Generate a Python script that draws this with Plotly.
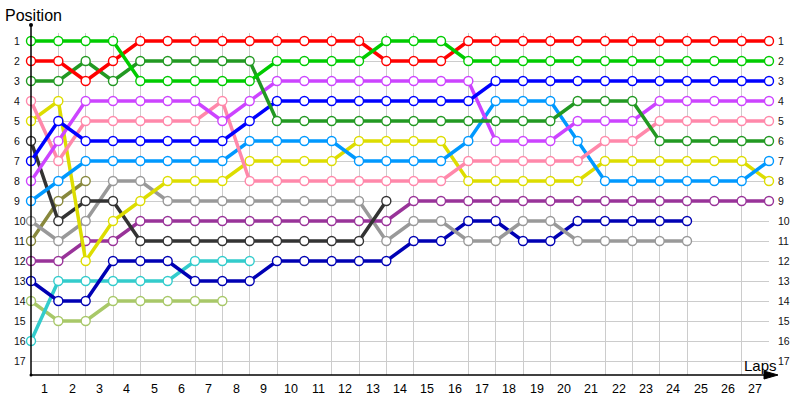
import plotly.graph_objects as go

# ---- data ----
laps = list(range(0, 28))
lap_labels = [str(i) for i in range(1, 28)]
positions = list(range(1, 18))

red = [2,2,3,2,1,1,1,1,1,1,1,1,1,2,2,2,1,1,1,1,1,1,1,1,1,1,1,1]
green = [1,1,1,1,3,3,3,3,3,2,2,2,2,1,1,1,2,2,2,2,2,2,2,2,2,2,2,2]
dark_green = [3,3,2,3,2,2,2,2,2,5,5,5,5,5,5,5,5,5,5,5,4,4,4,6,6,6,6,6]
blue = [7,5,6,6,6,6,6,6,5,4,4,4,4,4,4,4,4,3,3,3,3,3,3,3,3,3,3,3]
purple = [8,6,4,4,4,4,4,5,4,3,3,3,3,3,3,3,3,6,6,6,5,5,5,4,4,4,4,4]
pink = [4,7,5,5,5,5,5,4,8,8,8,8,8,8,8,8,7,7,7,7,7,6,6,5,5,5,5,5]
light_blue = [9,8,7,7,7,7,7,7,6,6,6,6,7,7,7,7,6,4,4,4,6,8,8,8,8,8,8,7]
yellow = [5,4,12,10,9,8,8,8,7,7,7,7,6,6,6,6,8,8,8,8,8,7,7,7,7,7,7,8]
black = [6,10,9,9,11,11,11,11,11,11,11,11,11,9]
gray = [10,11,10,8,8,9,9,9,9,9,9,9,9,11,10,10,11,11,10,10,11,11,11,11,11]
olive = [11,9,8]
plum = [12,12,11,11,10,10,10,10,10,10,10,10,10,10,9,9,9,9,9,9,9,9,9,9,9,9,9,9]
navy = [13,14,14,12,12,12,13,13,13,12,12,12,12,12,11,11,10,10,11,11,10,10,10,10,10]
teal = [16,13,13,13,13,13,12,12,12]
light_green = [14,15,15,14,14,14,14,14]

series = [
    (light_green, "#a8c868"),
    (teal, "#33cccc"),
    (navy, "#0000b4"),
    (olive, "#88883c"),
    (gray, "#999999"),
    (plum, "#993399"),
    (black, "#333333"),
    (yellow, "#dddd00"),
    (light_blue, "#0099ff"),
    (pink, "#ff88aa"),
    (purple, "#cc44ff"),
    (blue, "#0000ff"),
    (dark_green, "#229922"),
    (red, "#ff0000"),
    (green, "#00cc00"),
]

fig = go.Figure()
for vals, col in series:
    fig.add_trace(go.Scatter(
        x=laps[:len(vals)], y=vals, mode="lines+markers",
        line=dict(color=col, width=3.5),
        marker=dict(size=9, color="white", line=dict(color=col, width=1.4)),
        cliponaxis=False, showlegend=False, hoverinfo="skip"))

W, H = 800, 400
L, R, T, B = 31, 31, 33, 25
pw, ph = W - L - R, H - T - B

def px(x):
    return (x - L) / pw

def py(y):
    return (H - B - y) / ph

font_family = "Liberation Sans, Arial, sans-serif"

fig.update_layout(
    width=W, height=H, margin=dict(l=L, r=R, t=T, b=B, pad=0, autoexpand=False),
    plot_bgcolor="white", paper_bgcolor="white",
    xaxis=dict(range=[0, 27], showticklabels=False, automargin=False,
               showgrid=False, zeroline=False, showline=False, ticks="",
               minor=dict(dtick=1, tick0=0, showgrid=True, gridcolor="#cccccc", gridwidth=1)),
    yaxis=dict(range=[17.7, 0.6], tickvals=positions, showticklabels=False, automargin=False,
               showgrid=True, gridcolor="#cccccc", gridwidth=1, zeroline=False, showline=False),
)

annotations = []
for p in positions:
    yp = py(41 + (p - 1) * 20)
    annotations.append(dict(x=px(12), y=yp, xref="paper", yref="paper", text=str(p),
                            showarrow=False, xanchor="left", yanchor="middle",
                            font=dict(family=font_family, size=10.5, color="#111111")))
    annotations.append(dict(x=px(776), y=yp, xref="paper", yref="paper", text=str(p),
                            showarrow=False, xanchor="left", yanchor="middle",
                            font=dict(family=font_family, size=10.5, color="#111111")))
for i, lab in enumerate(lap_labels):
    annotations.append(dict(x=i + 0.5, y=py(389), xref="x", yref="paper", text=lab,
                            showarrow=False, xanchor="center", yanchor="middle",
                            font=dict(family=font_family, size=12.5, color="black")))
annotations.append(dict(x=px(3), y=py(16), xref="paper", yref="paper", text="Position",
                        showarrow=False, xanchor="left", yanchor="middle",
                        font=dict(family=font_family, size=16, color="black")))
annotations.append(dict(x=px(742), y=py(365), xref="paper", yref="paper", text="Laps",
                        showarrow=False, xanchor="left", yanchor="middle",
                        font=dict(family=font_family, size=15, color="black")))
fig.update_layout(annotations=annotations)

shapes = [
    dict(type="line", xref="paper", yref="paper", x0=px(31), y0=py(375), x1=px(31), y1=py(25),
         line=dict(color="black", width=1.5)),
    dict(type="line", xref="paper", yref="paper", x0=px(31), y0=py(375), x1=px(770), y1=py(375),
         line=dict(color="black", width=1.5)),
    dict(type="path", xref="paper", yref="paper",
         path=f"M {px(764)} {py(371)} L {px(778)} {py(375)} L {px(764)} {py(379)} Z",
         fillcolor="black", line=dict(color="black", width=1)),
    dict(type="circle", xref="paper", yref="paper", x0=px(29), y0=py(23), x1=px(33), y1=py(27),
         fillcolor="black", line=dict(color="black", width=0)),
    dict(type="circle", xref="paper", yref="paper", x0=px(29.5), y0=py(373.5), x1=px(32.5), y1=py(376.5),
         fillcolor="black", line=dict(color="black", width=0)),
]
fig.update_layout(shapes=shapes)

fig.write_html("out.html", config={"displayModeBar": False},
               post_script="document.body.style.margin='0';document.body.style.overflow='hidden';")
